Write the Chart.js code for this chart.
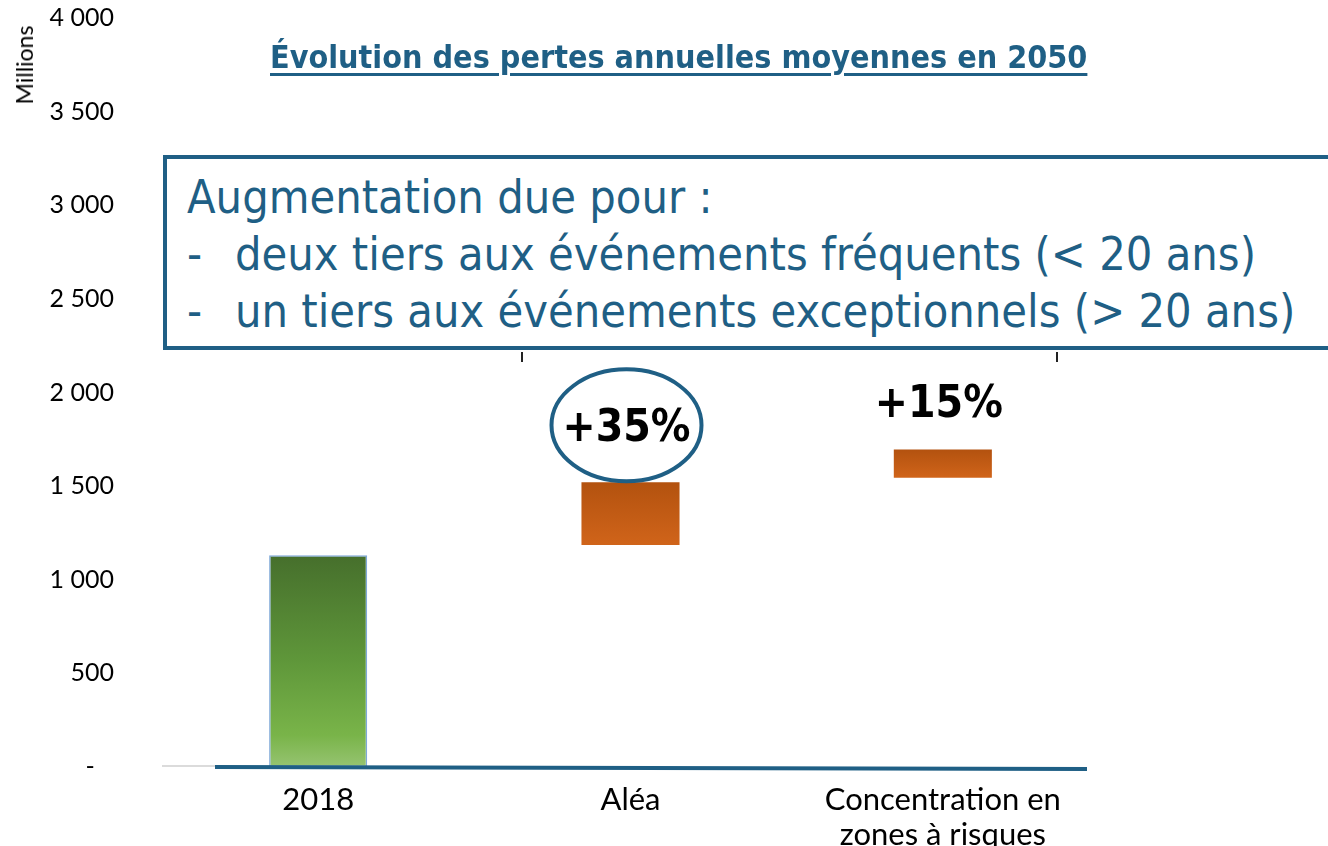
<!DOCTYPE html>
<html lang="fr">
<head>
<meta charset="utf-8">
<title>Évolution des pertes annuelles moyennes en 2050</title>
<script src="https://cdn.jsdelivr.net/npm/chart.js@4.4.1/dist/chart.umd.min.js"></script>
<style>
  body { margin: 0; background: #fff; }
  #wrap { position: relative; width: 1328px; height: 846px; overflow: hidden; }
  #chart { position: absolute; left: 0; top: 0; }
  #title {
    position: absolute; left: 270px; top: 38px; white-space: nowrap;
    font-family: "DejaVu Sans Condensed", "DejaVu Sans", sans-serif; font-weight: bold;
    font-size: 32px; color: #1f5f85; text-decoration: underline; text-underline-offset: 5px;
  }
  #unit {
    position: absolute; left: 10px; top: 65px; transform-origin: left top;
    transform: rotate(-90deg) translate(-50%, 0); font-family: Lato, "Open Sans", sans-serif;
    font-size: 23px; color: #000; white-space: nowrap;
  }
  #note {
    position: absolute; left: 163px; top: 155px; width: 1200px; height: 177px;
    border: 4px solid #1f5f85; background: #fff; color: #1f5f85;
    font-family: "DejaVu Sans Condensed", "DejaVu Sans", sans-serif; font-size: 46.5px;
    line-height: 57px; padding: 10px 0 0 20px; box-sizing: content-box;
  }
  #note div { white-space: nowrap; }
  #note .dash { display: inline-block; width: 48px; }
  .tick { position: absolute; width: 2px; height: 10px; background: #222; top: 352px; }
</style>
</head>
<body>
<div id="wrap">
  <canvas id="chart" width="1328" height="846"></canvas>
  <div id="unit">Millions</div>
  <div id="title">Évolution des pertes annuelles moyennes en 2050</div>
  <div class="tick" style="left:521px"></div>
  <div class="tick" style="left:1056px"></div>
  <div id="note">
    <div>Augmentation due pour :</div>
    <div><span class="dash">-</span>deux tiers aux événements fréquents (&lt; 20 ans)</div>
    <div><span class="dash">-</span>un tiers aux événements exceptionnels (&gt; 20 ans)</div>
  </div>
</div>
<script>
// données
const categories = ["2018", "Aléa", ["Concentration en", "zones à risques"]];
const barStart = [0, 1185, 1545];
const barEnd = [1130, 1520, 1695];
const pctLabels = ["", "+35%", "+15%"];
const yTicks = [0, 500, 1000, 1500, 2000, 2500, 3000, 3500, 4000];

const blue = "#1f5f85";
// décalage des étiquettes au-dessus des barres, ellipse ou pas
const labelStyle = [null, { dy: 57, ellipse: true, size: 44 }, { dy: 48, ellipse: false, size: 44 }];

function barColor(c) {
  const chart = c.chart;
  const i = c.dataIndex;
  if (!chart.chartArea) return i === 0 ? "#5e9639" : "#c05a14";
  const y = chart.scales.y;
  const top = y.getPixelForValue(barEnd[i]);
  const bot = y.getPixelForValue(barStart[i]);
  const g = chart.ctx.createLinearGradient(0, top, 0, bot);
  if (i === 0) {
    g.addColorStop(0, "#466f2c");
    g.addColorStop(0.5, "#5f973a");
    g.addColorStop(0.85, "#79b449");
    g.addColorStop(1, "#96c471");
  } else {
    g.addColorStop(0, "#b3520f");
    g.addColorStop(1, "#d0641a");
  }
  return g;
}

const decor = {
  id: "decor",
  afterDatasetsDraw(chart) {
    const { ctx, chartArea, scales } = chart;
    const y0 = scales.y.getPixelForValue(0);
    ctx.save();
    ctx.strokeStyle = "#cfcfcf";
    ctx.lineWidth = 1.5;
    ctx.beginPath(); ctx.moveTo(chartArea.left, y0 - 1); ctx.lineTo(216, y0 - 1); ctx.stroke();
    ctx.strokeStyle = blue;
    ctx.lineWidth = 4;
    ctx.beginPath(); ctx.moveTo(215, y0); ctx.lineTo(1087, y0 + 2); ctx.stroke();

    const meta = chart.getDatasetMeta(0);
    meta.data.forEach((bar, i) => {
      const st = labelStyle[i];
      if (!st || !pctLabels[i]) return;
      const cx = bar.x - 4;
      const cy = Math.min(bar.y, bar.base) - st.dy;
      if (st.ellipse) {
        ctx.beginPath();
        ctx.ellipse(cx, cy, 75, 56, 0, 0, Math.PI * 2);
        ctx.fillStyle = "#fff"; ctx.fill();
        ctx.lineWidth = 4; ctx.strokeStyle = blue; ctx.stroke();
      }
      ctx.fillStyle = "#000";
      ctx.font = "bold " + st.size + "px 'DejaVu Sans Condensed', 'DejaVu Sans', sans-serif";
      ctx.textAlign = "center";
      ctx.textBaseline = "middle";
      ctx.fillText(pctLabels[i], cx, cy + 4);
    });
    ctx.restore();
  }
};

new Chart(document.getElementById("chart"), {
  type: "bar",
  data: {
    labels: categories,
    datasets: [{
      data: barStart.map((s, i) => [s, barEnd[i]]),
      backgroundColor: barColor,
      borderColor: ["#7ea8d8", "rgba(0,0,0,0)", "rgba(0,0,0,0)"],
      borderWidth: [1.5, 0, 0],
      borderSkipped: false,
      categoryPercentage: 1,
      barPercentage: 0.314
    }]
  },
  options: {
    responsive: false,
    animation: false,
    layout: { padding: { top: 18, right: 229, left: 0, bottom: -23 } },
    plugins: { legend: { display: false }, tooltip: { enabled: false } },
    scales: {
      x: {
        grid: { display: false, drawTicks: false },
        border: { display: false },
        ticks: { color: "#000", padding: 16, font: { family: "Lato, 'Open Sans', sans-serif", size: 31, lineHeight: 1.13 } }
      },
      y: {
        min: 0, max: 4000,
        afterBuildTicks: s => { s.ticks = yTicks.map(v => ({ value: v })); },
        afterFit: s => { s.width = 162; },
        grid: { display: false, drawTicks: true, tickLength: 48 },
        border: { display: false },
        ticks: {
          color: "#000", padding: 0,
          font: { family: "Lato, 'Open Sans', sans-serif", size: 25 },
          callback: v => v === 0 ? "-\u00a0\u00a0\u00a0" : String(v).replace(/\B(?=(\d{3})+(?!\d))/g, " ")
        }
      }
    }
  },
  plugins: [decor]
});
</script>
</body>
</html>
